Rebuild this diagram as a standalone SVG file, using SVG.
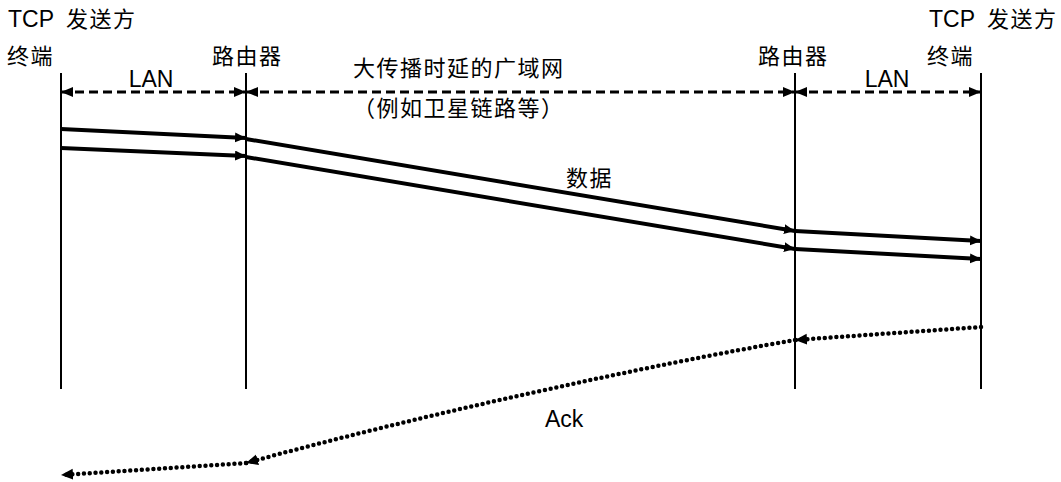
<svg xmlns="http://www.w3.org/2000/svg" width="1061" height="482" viewBox="0 0 1061 482">
<style>
text{font-family:"Liberation Sans","Noto Sans CJK SC",Arial,sans-serif;font-size:22px;fill:#000}
.lat{font-size:23px}
.cjk{letter-spacing:1.5px}
.life{stroke:#000;stroke-width:2;fill:none}
.span{stroke:#000;stroke-width:3;stroke-dasharray:9 5;fill:none;marker-start:url(#ah);marker-end:url(#ah)}
.data{stroke:#000;stroke-width:4;fill:none}
.arr{marker-end:url(#dh)}
.ack{stroke:#000;stroke-width:4.5;stroke-dasharray:0 5.8;stroke-linecap:round;fill:none;marker-end:url(#kh)}
</style>
<defs>
<marker id="ah" markerUnits="userSpaceOnUse" markerWidth="13" markerHeight="11" refX="12" refY="5" orient="auto-start-reverse" viewBox="0 0 13 11"><path d="M0,0 L12,5 L0,10 z" fill="#000" stroke="none"/></marker>
<marker id="dh" markerUnits="userSpaceOnUse" markerWidth="12" markerHeight="11" refX="11" refY="5" orient="auto" viewBox="0 0 12 11"><path d="M0,0 L11,5 L0,10 z" fill="#000" stroke="none"/></marker>
<marker id="kh" markerUnits="userSpaceOnUse" markerWidth="14" markerHeight="12" refX="12" refY="5.5" orient="auto" viewBox="0 0 14 12"><path d="M0,0 L12,5.5 L0,11 z" fill="#000" stroke="none"/></marker>
</defs>
<g id="host-left">
<text class="lat" x="8" y="27">TCP</text><text class="cjk" x="66" y="27">发送方</text>
<text class="cjk" x="7" y="64">终端</text>
<line class="life" x1="61" y1="73" x2="61" y2="389"/>
</g>
<g id="router-left">
<text class="cjk" x="212" y="64">路由器</text>
<line class="life" x1="246" y1="73" x2="246" y2="389"/>
</g>
<g id="router-right">
<text class="cjk" x="758" y="64">路由器</text>
<line class="life" x1="795" y1="73" x2="795" y2="389"/>
</g>
<g id="host-right">
<text class="lat" x="929" y="27">TCP</text><text class="cjk" x="987" y="27">发送方</text>
<text class="cjk" x="927" y="64">终端</text>
<line class="life" x1="981" y1="73" x2="981" y2="389"/>
</g>
<g id="connectors">
<line class="span" x1="61" y1="92" x2="246" y2="92"/>
<line class="span" x1="246" y1="92" x2="795" y2="92"/>
<line class="span" x1="795" y1="92" x2="981" y2="92"/>
<line class="data arr" x1="61" y1="129" x2="246" y2="138"/>
<line class="data arr" x1="61" y1="148" x2="246" y2="156"/>
<line class="data arr" x1="246" y1="139" x2="795" y2="231"/>
<line class="data arr" x1="246" y1="157" x2="795" y2="249"/>
<line class="data arr" x1="795" y1="231" x2="981" y2="241"/>
<line class="data arr" x1="795" y1="249" x2="981" y2="259"/>
<path class="ack" d="M981,327 L795,340"/>
<path class="ack" d="M795,340 C650,365 420,415 246,463"/>
<path class="ack" d="M246,463 L61,475"/>
</g>
<g id="labels">
<text class="lat" x="151" y="87" text-anchor="middle">LAN</text>
<text class="lat" x="887" y="87" text-anchor="middle">LAN</text>
<text class="cjk" x="353" y="76">大传播时延的广域网</text>
<text class="cjk" x="353" y="116">（例如卫星链路等）</text>
<text class="cjk" x="566" y="186">数据</text>
<text class="lat" x="545" y="427">Ack</text>
</g>
</svg>
